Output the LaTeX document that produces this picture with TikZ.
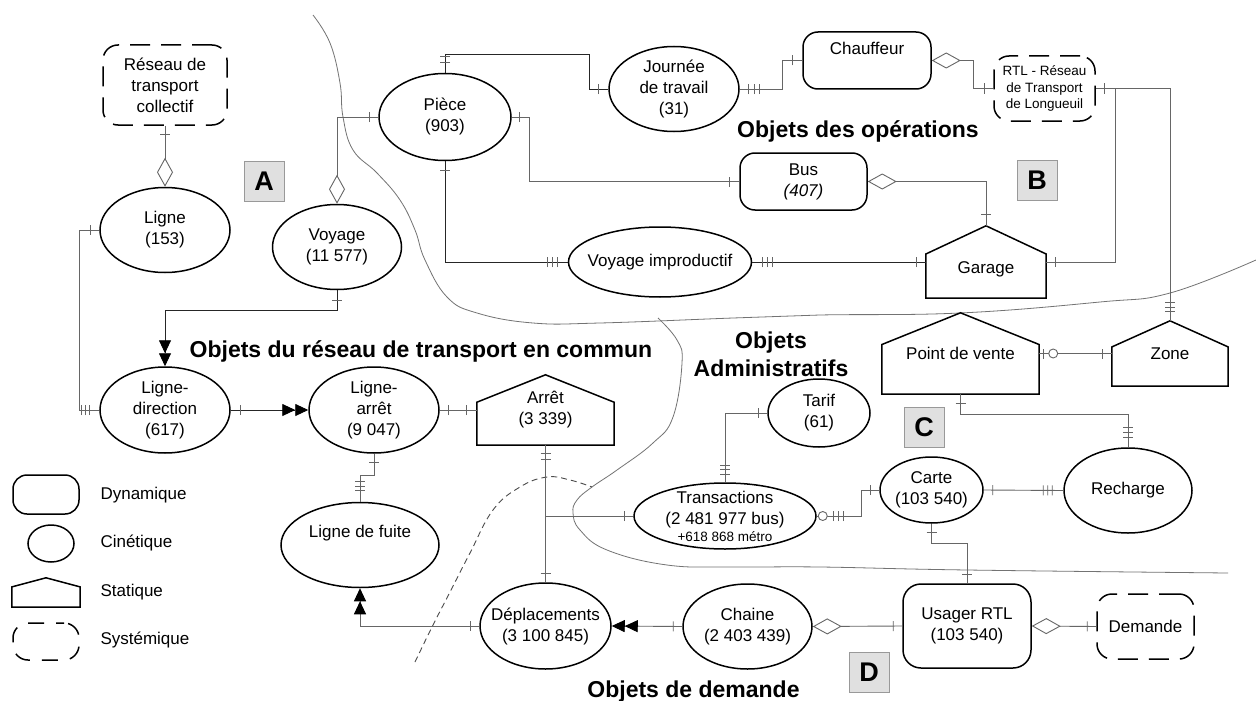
\documentclass[tikz,border=0pt]{standalone}
\usepackage{fontspec}
\setmainfont{Liberation Sans}
\usetikzlibrary{shapes.geometric,arrows.meta,decorations.markings,calc}
\newcommand{\drawhouse}[2]{\draw[houseline] (#1.south west) -- ($(#1.north west)!#2!(#1.south west)$) -- (#1.north) -- ($(#1.north east)!#2!(#1.south east)$) -- (#1.south east) -- cycle;}
\tikzset{
  every node/.style={font=\fontsize{17}{21}\selectfont},
  ent/.style={draw=black, line width=1.5pt, inner sep=0pt, align=center, fill=white},
  cin/.style={ent, ellipse, inner sep=-12pt},
  dyn/.style={ent, rectangle, rounded corners=15pt},
  sys/.style={ent, rectangle, rounded corners=15pt, dash pattern=on 20pt off 11pt},
  stat/.style={inner sep=0pt, align=center},
  houseline/.style={draw=black, line width=1.5pt, line join=miter},
  conn/.style={draw=black!60, line width=0.9pt},
  conndark/.style={draw=black!85, line width=0.9pt},
  tickline/.style={draw=black!60, line width=0.9pt, solid},
  tk/.style={postaction={decorate, decoration={markings, mark=at position #1 with {\draw[tickline,-] (0pt,-5pt) -- (0pt,5pt);}}}},
  circ/.style={postaction={decorate, decoration={markings, mark=at position #1 with {\draw[tickline,-,fill=white] (0pt,0pt) circle (4.5pt);}}}},
  diaS/.style={arrows={Diamond[open,length=29pt,width=16pt]-}},
  diaE/.style={arrows={-Diamond[open,length=29pt,width=16pt]}},
  dblE/.style={arrows={-{Triangle[length=13pt,width=12pt,color=black]Triangle[length=13pt,width=12pt,color=black]}}},
  bound/.style={draw=black!55, line width=0.8pt},
  title/.style={font=\fontsize{23}{28}\bfseries\selectfont, align=center},
  tag/.style={draw=black!40, fill=black!12, minimum size=40pt, inner sep=0pt, font=\fontsize{27}{27}\bfseries\selectfont},
  legtext/.style={anchor=west},
}
\begin{document}
\begin{tikzpicture}[x=1pt,y=-1pt]
\fill[white] (0,0) rectangle (1256,701);
\useasboundingbox (0,0) rectangle (1256,701);

% boundary curves
\draw[bound] plot[smooth, tension=0.7] coordinates {(313,15) (330,43) (340,83) (343,117) (353,150) (377,173) (400,200) (415,230) (425,260) (447,297) (477,313) (533,323) (600,323) (733,318) (820,315) (960,313) (1100,302) (1170,293) (1256,260)};
\draw[bound] plot[smooth, tension=0.7] coordinates {(658,318) (677,340) (682,363) (673,417) (653,443) (617,470) (592,487) (577,500) (573,513) (580,530) (607,550) (667,565) (733,567) (820,567) (967,570) (1228,573)};
\draw[draw=black!70, line width=0.9pt, dash pattern=on 6pt off 4pt] plot[smooth, tension=0.7] coordinates {(415,662) (432,627) (450,592) (470,553) (493,510) (520,487) (547,477) (570,480) (592,487)};

% entities
\node[sys, minimum width=124pt, minimum height=80pt] (reseau) at (165,85) {Réseau de\\transport\\collectif};
\node[cin, minimum width=130pt, minimum height=85pt] (ligne) at (165,230) {Ligne\\(153)};
\node[cin, minimum width=129pt, minimum height=85pt] (voyage) at (337,247) {Voyage\\(11 577)};
\node[cin, minimum width=132pt, minimum height=87pt] (piece) at (445,117) {Pièce\\(903)};
\node[cin, minimum width=130pt, minimum height=85pt] (journee) at (674,89) {Journée\\de travail\\(31)};
\node[dyn, minimum width=128pt, minimum height=57pt, label={[yshift=12.5pt]center:Chauffeur}] (chauffeur) at (867,60.5) {};
\node[sys, minimum width=101pt, minimum height=65pt, font=\fontsize{13.5}{16.5}\selectfont] (rtl) at (1044.5,88.5) {RTL - Réseau\\de Transport\\de Longueuil};
\node[dyn, minimum width=127pt, minimum height=57pt] (bus) at (803.5,181.5) {Bus\\\textit{(407)}};
\node[stat, minimum width=120pt, minimum height=72pt, label={[yshift=-7pt]center:Garage}] (garage) at (986,262) {};
\drawhouse{garage}{0.39}
\node[cin, minimum width=183pt, minimum height=70pt] (vimp) at (660,262) {Voyage improductif};
\node[cin, minimum width=130pt, minimum height=86pt] (ldir) at (165,410) {Ligne-\\direction\\(617)};
\node[cin, minimum width=130pt, minimum height=86pt] (larret) at (374,410) {Ligne-\\arrêt\\(9 047)};
\node[stat, minimum width=137pt, minimum height=70pt] (arret) at (545.5,410) {Arrêt\\(3 339)};
\drawhouse{arret}{0.39}
\node[cin, minimum width=158pt, minimum height=85pt, label={[yshift=12pt]center:Ligne de fuite}] (fuite) at (360,545) {};
\node[cin, minimum width=131pt, minimum height=86pt] (depl) at (545.5,626) {Déplacements\\(3 100 845)};
\node[cin, minimum width=182pt, minimum height=66pt] (trans) at (725,516) {Transactions\\(2 481 977 bus)\\[-4pt]{\fontsize{13.5}{14}\selectfont +618 868 métro}};
\node[cin, minimum width=102pt, minimum height=68pt] (tarif) at (819,413) {Tarif\\(61)};
\node[cin, minimum width=103pt, minimum height=66pt] (carte) at (931.5,490) {Carte\\(103 540)};
\node[cin, minimum width=128pt, minimum height=85pt] (recharge) at (1128,490.5) {Recharge};
\node[stat, minimum width=157pt, minimum height=81pt] (pdv) at (960.5,353.5) {Point de vente};
\drawhouse{pdv}{0.39}
\node[stat, minimum width=116pt, minimum height=65pt] (zone) at (1170,353.5) {Zone};
\drawhouse{zone}{0.40}
\node[dyn, minimum width=128pt, minimum height=84pt, rounded corners=18pt] (usager) at (967,626) {Usager RTL\\(103 540)};
\node[cin, minimum width=129pt, minimum height=85pt] (chaine) at (747.5,626.5) {Chaine\\(2 403 439)};
\node[sys, minimum width=97pt, minimum height=65pt] (demande) at (1145.5,626.5) {Demande};

% connectors
\draw[conn, tk=9pt, diaE] (reseau.south) -- (ligne.north);
\draw[conn, tk=9pt, tk=-10pt, tk=-14pt, tk=-18pt] (ligne.west) -- ++(-20,0) |- (ldir.west);
\draw[conndark, tk=10pt, dblE] (voyage.south) -- ++(0,20) -| (ldir.north);
\draw[conndark, tk=10pt, dblE] (ldir.east) -- (larret.west);
\draw[conn, tk=9pt, tk=-10pt] (larret.east) -- (arret.west);
\draw[conn, tk=9pt, tk=-11pt, tk=-15.5pt, tk=-20pt] (larret.south) -- ++(0,22) -| (fuite.north);
\draw[conn, tk=8pt, tk=14pt, tk=-9pt] (arret.south) -- (depl.north);
\draw[conn, tk=-9pt] (arret.south |- trans.west) -- (trans.west);
\draw[conn, tk=9pt, dblE] (depl.west) -| (fuite.south);
\draw[conn, tk=9pt, dblE] (chaine.west) -- (depl.east);
\draw[conn, diaS, tk=-9pt] (chaine.east) -- (usager.west);
\draw[conn, diaS, tk=-9pt] (usager.east) -- (demande.west);
\draw[conn, tk=9pt, tk=-9pt] (carte.south) -- ++(0,20) -| (usager.north);
\draw[conn, tk=9pt, tk=-11pt, tk=-15.5pt, tk=-20pt] (carte.east) -- (recharge.west);
\draw[conn, tk=9pt, tk=-8pt, tk=-12.5pt, tk=-17pt] (tarif.west) -| (trans.north);
\draw[conn, circ=6pt, tk=17pt, tk=22pt, tk=27pt, tk=-9pt] (trans.east) -- ++(45,0) |- (carte.west);
\draw[conn, tk=4pt, circ=14pt, tk=-9pt] (pdv.east) -- (zone.west);
\draw[conn, tk=9pt, tk=-10pt, tk=-15pt, tk=-20pt] (pdv.south) -- ++(0,20) -| (recharge.north);
\draw[conn, diaS, tk=-9pt] (voyage.north) |- (piece.west);
\draw[conndark, tk=10pt, tk=16pt, tk=-10pt] (piece.north) |- ($(journee.west)+(-19,-35)$) |- (journee.west);
\draw[conn, tk=9pt, tk=15pt, tk=20pt, tk=-10pt] (journee.east) -| ($(chauffeur.west)+(-20,0)$) -- (chauffeur.west);
\draw[conn, diaS, tk=-9pt] (chauffeur.east) -| ($(rtl.west)+(-20,0)$) -- (rtl.west);
\draw[conn, tk=9pt, tk=-9pt, tk=-13.5pt, tk=-18pt] (rtl.east) -| (zone.north);
\draw[conn, tk=9pt, tk=-9pt] (rtl.east) -| ($(garage.east)+(69,0)$) -- (garage.east);
\draw[conn, tk=8pt, tk=-10pt] (piece.east) -| ($(bus.west)+(-210,0)$) -- (bus.west);
\draw[conn, diaS, tk=-11pt] (bus.east) -| (garage.north);
\draw[conndark, tk=9pt, tk=-10pt, tk=-15pt, tk=-20pt] (piece.south) |- (vimp.west);
\draw[conndark, tk=10pt, tk=15pt, tk=20pt, tk=-9pt] (vimp.east) -- (garage.west);

% titles
\node[title, anchor=base] (t1) at (421,357) {Objets du réseau de transport en commun};
\node[title, anchor=base] (t2) at (858,137) {Objets des opérations};
\node[title, anchor=base] (t3) at (693.5,697) {Objets de demande};
\node[title] (t4) at (771,354) {Objets\\Administratifs};

% tags
\node[tag] (tagA) at (264,181.5) {A};
\node[tag] (tagB) at (1037,180.5) {B};
\node[tag] (tagC) at (924,427.5) {C};
\node[tag] (tagD) at (869,672) {D};

% legend
\node[dyn, minimum width=66pt, minimum height=39pt, rounded corners=14pt] (legdyn) at (46,494.5) {};
\node[cin, minimum width=46pt, minimum height=37pt] (legcin) at (51,543.5) {};
\node[stat, minimum width=68pt, minimum height=29pt] (legstat) at (46,592.5) {};
\drawhouse{legstat}{0.31}
\node[sys, minimum width=66pt, minimum height=37pt, dash pattern=on 16pt off 12pt, dash phase=8pt] (legsys) at (46,641.5) {};
\node[legtext] (lt1) at (97,495) {Dynamique};
\node[legtext] (lt2) at (97,543) {Cinétique};
\node[legtext] (lt3) at (97,592) {Statique};
\node[legtext] (lt4) at (97,640) {Systémique};
\end{tikzpicture}
\end{document}
